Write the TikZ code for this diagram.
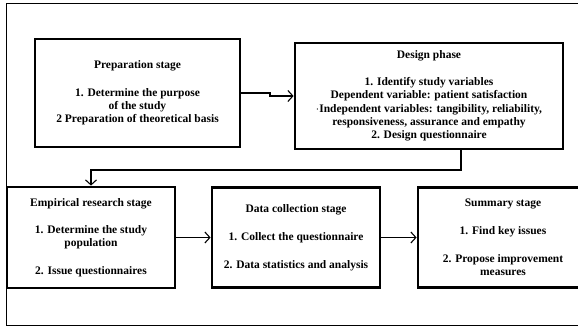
\documentclass[tikz,border=0pt]{standalone}
\usepackage{fontspec}
\setmainfont{Liberation Serif}
\usetikzlibrary{arrows.meta}
\begin{document}
\begin{tikzpicture}[x=1pt,y=-1pt,
  stagebox/.style={draw, line width=2.8pt, align=center,
    font=\fontsize{11.5}{13.4}\selectfont\bfseries, inner sep=0pt},
  link/.style={line width=1.1pt, -{Straight Barb[length=5pt,width=11pt,line width=1.1pt]}}]
\useasboundingbox (0,0) rectangle (578,329);
\clip (0,0) rectangle (578,329);
\draw[line width=0.9pt] (6,3) rectangle (620,325);
\node[stagebox, minimum width=205pt, minimum height=108pt] (prep) at (137.5,93)
  {Preparation stage\\[14pt]1. Determine the purpose\\of the study\\2 Preparation of theoretical basis};
\node[stagebox, minimum width=268pt, minimum height=106pt] (design) at (429,96)
  {Design phase\\[13.4pt]1. Identify study variables\\Dependent variable: patient satisfaction\\$\cdot$Independent variables: tangibility, reliability,\\responsiveness, assurance and empathy\\2. Design questionnaire};
\node[stagebox, minimum width=168pt, minimum height=101pt] (emp) at (91,237.5)
  {Empirical research stage\\[13.6pt]1. Determine the study\\population\\[14pt]2. Issue questionnaires};
\node[stagebox, minimum width=168pt, minimum height=100pt] (data) at (296,237.5)
  {Data collection stage\\[14.4pt]1. Collect the questionnaire\\[14.4pt]2. Data statistics and analysis};
\node[stagebox, minimum width=170pt, minimum height=100pt] (summ) at (503,237.5)
  {Summary stage\\[14.4pt]1. Find key issues\\[14.4pt]2. Propose improvement\\measures};
\coordinate (j1) at (270,93);
\coordinate (j2) at (461,170);
\draw[link] (prep.east) -- (j1) |- (design.west);
\draw[link] (design.south -| j2) -- (j2) -| (emp.north);
\draw[link] (emp.east) -- (data.west);
\draw[link] (data.east) -- (summ.west);
\end{tikzpicture}
\end{document}
